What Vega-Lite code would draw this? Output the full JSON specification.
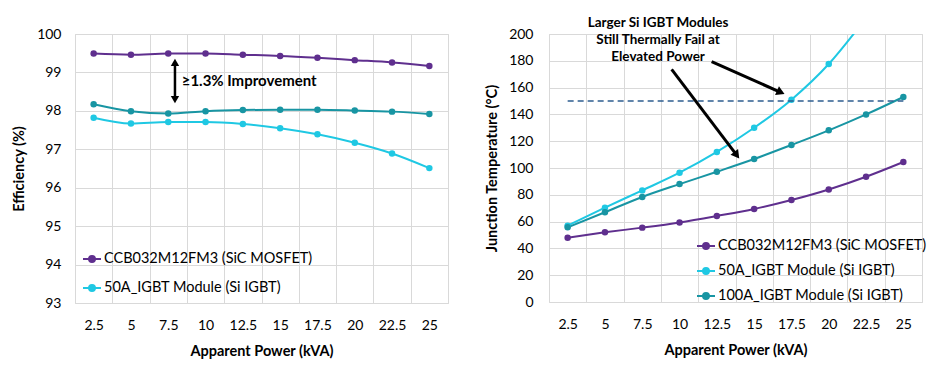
{
  "$schema": "https://vega.github.io/schema/vega-lite/v6.json",
  "padding": {"left": 11, "top": 15, "right": 10, "bottom": 2},
  "spacing": 35,
  "config": {
    "font": "Lato",
    "view": {"stroke": "#d9d9d9", "strokeWidth": 1},
    "axis": {
      "domain": false, "ticks": false, "gridColor": "#d9d9d9", "gridWidth": 1, "labelOverlap": false,
      "labelFont": "Lato", "labelFontSize": 14, "labelColor": "#000000",
      "titleFont": "Lato", "titleFontSize": 14.5, "titleFontWeight": "bold", "titleColor": "#000000"
    },
    "legend": {"labelFont": "Lato", "labelFontSize": 14.5, "labelColor": "#000000", "padding": 0, "labelLimit": 400}
  },
  "datasets": {
    "eff": [
      {"series": "CCB032M12FM3 (SiC MOSFET)", "kva": 2.5, "v": 99.49},
      {"series": "CCB032M12FM3 (SiC MOSFET)", "kva": 5, "v": 99.46},
      {"series": "CCB032M12FM3 (SiC MOSFET)", "kva": 7.5, "v": 99.49},
      {"series": "CCB032M12FM3 (SiC MOSFET)", "kva": 10, "v": 99.49},
      {"series": "CCB032M12FM3 (SiC MOSFET)", "kva": 12.5, "v": 99.46},
      {"series": "CCB032M12FM3 (SiC MOSFET)", "kva": 15, "v": 99.43},
      {"series": "CCB032M12FM3 (SiC MOSFET)", "kva": 17.5, "v": 99.38},
      {"series": "CCB032M12FM3 (SiC MOSFET)", "kva": 20, "v": 99.32},
      {"series": "CCB032M12FM3 (SiC MOSFET)", "kva": 22.5, "v": 99.26},
      {"series": "CCB032M12FM3 (SiC MOSFET)", "kva": 25, "v": 99.17},
      {"series": "50A_IGBT Module (Si IGBT)", "kva": 2.5, "v": 97.82},
      {"series": "50A_IGBT Module (Si IGBT)", "kva": 5, "v": 97.67},
      {"series": "50A_IGBT Module (Si IGBT)", "kva": 7.5, "v": 97.71},
      {"series": "50A_IGBT Module (Si IGBT)", "kva": 10, "v": 97.71},
      {"series": "50A_IGBT Module (Si IGBT)", "kva": 12.5, "v": 97.66},
      {"series": "50A_IGBT Module (Si IGBT)", "kva": 15, "v": 97.55},
      {"series": "50A_IGBT Module (Si IGBT)", "kva": 17.5, "v": 97.39},
      {"series": "50A_IGBT Module (Si IGBT)", "kva": 20, "v": 97.17},
      {"series": "50A_IGBT Module (Si IGBT)", "kva": 22.5, "v": 96.89},
      {"series": "50A_IGBT Module (Si IGBT)", "kva": 25, "v": 96.51},
      {"series": "100A_IGBT Module (Si IGBT)", "kva": 2.5, "v": 98.17},
      {"series": "100A_IGBT Module (Si IGBT)", "kva": 5, "v": 97.99},
      {"series": "100A_IGBT Module (Si IGBT)", "kva": 7.5, "v": 97.93},
      {"series": "100A_IGBT Module (Si IGBT)", "kva": 10, "v": 97.99},
      {"series": "100A_IGBT Module (Si IGBT)", "kva": 12.5, "v": 98.02},
      {"series": "100A_IGBT Module (Si IGBT)", "kva": 15, "v": 98.03},
      {"series": "100A_IGBT Module (Si IGBT)", "kva": 17.5, "v": 98.03},
      {"series": "100A_IGBT Module (Si IGBT)", "kva": 20, "v": 98.01},
      {"series": "100A_IGBT Module (Si IGBT)", "kva": 22.5, "v": 97.98},
      {"series": "100A_IGBT Module (Si IGBT)", "kva": 25, "v": 97.92}
    ],
    "tj": [
      {"series": "CCB032M12FM3 (SiC MOSFET)", "kva": 2.5, "v": 48},
      {"series": "CCB032M12FM3 (SiC MOSFET)", "kva": 5, "v": 52},
      {"series": "CCB032M12FM3 (SiC MOSFET)", "kva": 7.5, "v": 55.5},
      {"series": "CCB032M12FM3 (SiC MOSFET)", "kva": 10, "v": 59.4},
      {"series": "CCB032M12FM3 (SiC MOSFET)", "kva": 12.5, "v": 64.2},
      {"series": "CCB032M12FM3 (SiC MOSFET)", "kva": 15, "v": 69.4},
      {"series": "CCB032M12FM3 (SiC MOSFET)", "kva": 17.5, "v": 76.1},
      {"series": "CCB032M12FM3 (SiC MOSFET)", "kva": 20, "v": 84},
      {"series": "CCB032M12FM3 (SiC MOSFET)", "kva": 22.5, "v": 93.5},
      {"series": "CCB032M12FM3 (SiC MOSFET)", "kva": 25, "v": 104.5},
      {"series": "50A_IGBT Module (Si IGBT)", "kva": 2.5, "v": 57},
      {"series": "50A_IGBT Module (Si IGBT)", "kva": 5, "v": 70.4},
      {"series": "50A_IGBT Module (Si IGBT)", "kva": 7.5, "v": 83.3},
      {"series": "50A_IGBT Module (Si IGBT)", "kva": 10, "v": 96.5},
      {"series": "50A_IGBT Module (Si IGBT)", "kva": 12.5, "v": 112},
      {"series": "50A_IGBT Module (Si IGBT)", "kva": 15, "v": 130},
      {"series": "50A_IGBT Module (Si IGBT)", "kva": 17.5, "v": 151},
      {"series": "50A_IGBT Module (Si IGBT)", "kva": 20, "v": 177.6},
      {"series": "50A_IGBT Module (Si IGBT)", "kva": 22.5, "v": 212},
      {"series": "50A_IGBT Module (Si IGBT)", "kva": 25, "v": 250},
      {"series": "100A_IGBT Module (Si IGBT)", "kva": 2.5, "v": 55.7},
      {"series": "100A_IGBT Module (Si IGBT)", "kva": 5, "v": 67},
      {"series": "100A_IGBT Module (Si IGBT)", "kva": 7.5, "v": 78.4},
      {"series": "100A_IGBT Module (Si IGBT)", "kva": 10, "v": 88},
      {"series": "100A_IGBT Module (Si IGBT)", "kva": 12.5, "v": 97.2},
      {"series": "100A_IGBT Module (Si IGBT)", "kva": 15, "v": 106.7},
      {"series": "100A_IGBT Module (Si IGBT)", "kva": 17.5, "v": 117.2},
      {"series": "100A_IGBT Module (Si IGBT)", "kva": 20, "v": 128.1},
      {"series": "100A_IGBT Module (Si IGBT)", "kva": 22.5, "v": 140},
      {"series": "100A_IGBT Module (Si IGBT)", "kva": 25, "v": 153}
    ]
  },
  "resolve": {"scale": {"color": "shared"}, "legend": {"color": "independent"}},
  "hconcat": [
    {
      "width": 373,
      "height": 269,
      "layer": [
        {
          "data": {"name": "eff"},
          "mark": {"type": "line", "strokeWidth": 2, "interpolate": "monotone"},
          "encoding": {
            "x": {"field": "kva", "type": "quantitative",
              "scale": {"domain": [1.25, 26.25], "nice": false, "zero": false},
              "axis": {"title": "Apparent Power (kVA)", "tickCount": 100, "values": [1.25, 2.5, 3.75, 5, 6.25, 7.5, 8.75, 10, 11.25, 12.5, 13.75, 15, 16.25, 17.5, 18.75, 20, 21.25, 22.5, 23.75, 25, 26.25],
                "format": "~g", "labelExpr": "datum.value % 2.5 === 0 ? datum.label : ''",
                "gridColor": {"condition": {"test": "datum.value % 2.5 !== 0", "value": "#d9d9d9"}, "value": "transparent"},
                "labelOverlap": false, "labelFlush": false, "labelPadding": 15, "titlePadding": 12}},
            "y": {"field": "v", "type": "quantitative",
              "scale": {"domain": [93, 100], "nice": false, "zero": false},
              "axis": {"title": "Efficiency (%)", "tickCount": 100, "format": "d", "values": [93, 94, 95, 96, 97, 98, 99, 100], "labelOverlap": false, "labelPadding": 14, "titlePadding": 10}},
            "color": {"field": "series", "type": "nominal",
              "scale": {"domain": ["CCB032M12FM3 (SiC MOSFET)", "50A_IGBT Module (Si IGBT)", "100A_IGBT Module (Si IGBT)"], "range": ["#5f2f8e", "#1fc8e3", "#1895a3"]},
              "legend": {"title": null, "orient": "none", "legendX": 7, "legendY": 215, "direction": "vertical",
                "values": ["CCB032M12FM3 (SiC MOSFET)", "50A_IGBT Module (Si IGBT)"],
                "symbolType": "M-1,0H1M0.33,0A0.33,0.33,0,1,1,-0.33,0A0.33,0.33,0,1,1,0.33,0Z",
                "symbolSize": 324, "symbolStrokeWidth": 2, "rowPadding": 12, "labelOffset": 2,
                "encode": {"symbols": {"update": {"fill": {"scale": "color", "field": "value"}, "stroke": {"scale": "color", "field": "value"}}}}}}
          }
        },
        {
          "data": {"name": "eff"},
          "mark": {"type": "point", "filled": true, "size": 42, "opacity": 1},
          "encoding": {
            "x": {"field": "kva", "type": "quantitative"},
            "y": {"field": "v", "type": "quantitative"},
            "color": {"field": "series", "type": "nominal"}
          }
        },
        {
          "data": {"values": [{}]},
          "mark": {"type": "rule", "color": "#000000", "strokeWidth": 2.5},
          "encoding": {"x": {"datum": 7.95}, "y": {"datum": 98.3}, "y2": {"datum": 99.25}}
        },
        {
          "data": {"values": [{}]},
          "mark": {"type": "point", "shape": "triangle-up", "filled": true, "color": "#000000", "size": 70, "opacity": 1},
          "encoding": {"x": {"datum": 7.95}, "y": {"datum": 99.26}}
        },
        {
          "data": {"values": [{}]},
          "mark": {"type": "point", "shape": "triangle-down", "filled": true, "color": "#000000", "size": 70, "opacity": 1},
          "encoding": {"x": {"datum": 7.95}, "y": {"datum": 98.29}}
        },
        {
          "data": {"values": [{}]},
          "mark": {"type": "text", "text": "≥1.3% Improvement", "align": "left", "baseline": "middle", "fontWeight": "bold", "fontSize": 15, "color": "#000000"},
          "encoding": {"x": {"datum": 8.4}, "y": {"datum": 98.77}}
        }
      ]
    },
    {
      "width": 373,
      "height": 268,
      "layer": [
        {
          "data": {"name": "tj"},
          "mark": {"type": "line", "strokeWidth": 2, "interpolate": "monotone", "clip": true},
          "encoding": {
            "x": {"field": "kva", "type": "quantitative",
              "scale": {"domain": [1.25, 26.25], "nice": false, "zero": false},
              "axis": {"title": "Apparent Power (kVA)", "tickCount": 100, "values": [1.25, 2.5, 3.75, 5, 6.25, 7.5, 8.75, 10, 11.25, 12.5, 13.75, 15, 16.25, 17.5, 18.75, 20, 21.25, 22.5, 23.75, 25, 26.25],
                "format": "~g", "labelExpr": "datum.value % 2.5 === 0 ? datum.label : ''",
                "gridColor": {"condition": {"test": "datum.value % 2.5 !== 0", "value": "#d9d9d9"}, "value": "transparent"},
                "labelOverlap": false, "labelFlush": false, "labelPadding": 15, "titlePadding": 12}},
            "y": {"field": "v", "type": "quantitative",
              "scale": {"domain": [0, 200], "nice": false},
              "axis": {"title": "Junction Temperature (°C)", "tickCount": 100, "format": "d", "values": [0, 20, 40, 60, 80, 100, 120, 140, 160, 180, 200], "labelOverlap": false, "labelPadding": 16, "titlePadding": 9}},
            "color": {"field": "series", "type": "nominal",
              "legend": {"title": null, "orient": "none", "legendX": 147, "legendY": 202, "direction": "vertical",
                "symbolType": "M-1,0H1M0.33,0A0.33,0.33,0,1,1,-0.33,0A0.33,0.33,0,1,1,0.33,0Z",
                "symbolSize": 324, "symbolStrokeWidth": 2, "rowPadding": 8, "labelOffset": 2,
                "encode": {"symbols": {"update": {"fill": {"scale": "color", "field": "value"}, "stroke": {"scale": "color", "field": "value"}}}}}}
          }
        },
        {
          "data": {"name": "tj"},
          "mark": {"type": "point", "filled": true, "size": 42, "opacity": 1, "clip": true},
          "encoding": {
            "x": {"field": "kva", "type": "quantitative"},
            "y": {"field": "v", "type": "quantitative"},
            "color": {"field": "series", "type": "nominal"}
          }
        },
        {
          "data": {"values": [{}]},
          "mark": {"type": "rule", "color": "#2e5d90", "strokeWidth": 1.5, "strokeDash": [6, 4]},
          "encoding": {"x": {"datum": 2.5}, "x2": {"datum": 25}, "y": {"datum": 150}}
        },
        {
          "data": {"values": [{}]},
          "mark": {"type": "rule", "color": "#000000", "strokeWidth": 3},
          "encoding": {"x": {"datum": 12.15}, "y": {"datum": 179.3}, "x2": {"datum": 16.7}, "y2": {"datum": 156.9}}
        },
        {
          "data": {"values": [{}]},
          "mark": {"type": "point", "shape": "triangle", "filled": true, "color": "#000000", "size": 90, "opacity": 1, "angle": 114},
          "encoding": {"x": {"datum": 16.7}, "y": {"datum": 156.9}}
        },
        {
          "data": {"values": [{}]},
          "mark": {"type": "rule", "color": "#000000", "strokeWidth": 3},
          "encoding": {"x": {"datum": 9.47}, "y": {"datum": 173.6}, "x2": {"datum": 13.78}, "y2": {"datum": 110.4}}
        },
        {
          "data": {"values": [{}]},
          "mark": {"type": "point", "shape": "triangle", "filled": true, "color": "#000000", "size": 90, "opacity": 1, "angle": 143},
          "encoding": {"x": {"datum": 13.78}, "y": {"datum": 110.4}}
        },
        {
          "data": {"values": [{}]},
          "mark": {"type": "text", "text": ["Larger Si IGBT Modules", "Still Thermally Fail at", "Elevated Power"], "align": "center", "baseline": "middle", "fontWeight": "bold", "fontSize": 13.5, "lineHeight": 17, "color": "#000000", "clip": false},
          "encoding": {"x": {"datum": 8.56}, "y": {"datum": 208.2}}
        }
      ]
    }
  ]
}
